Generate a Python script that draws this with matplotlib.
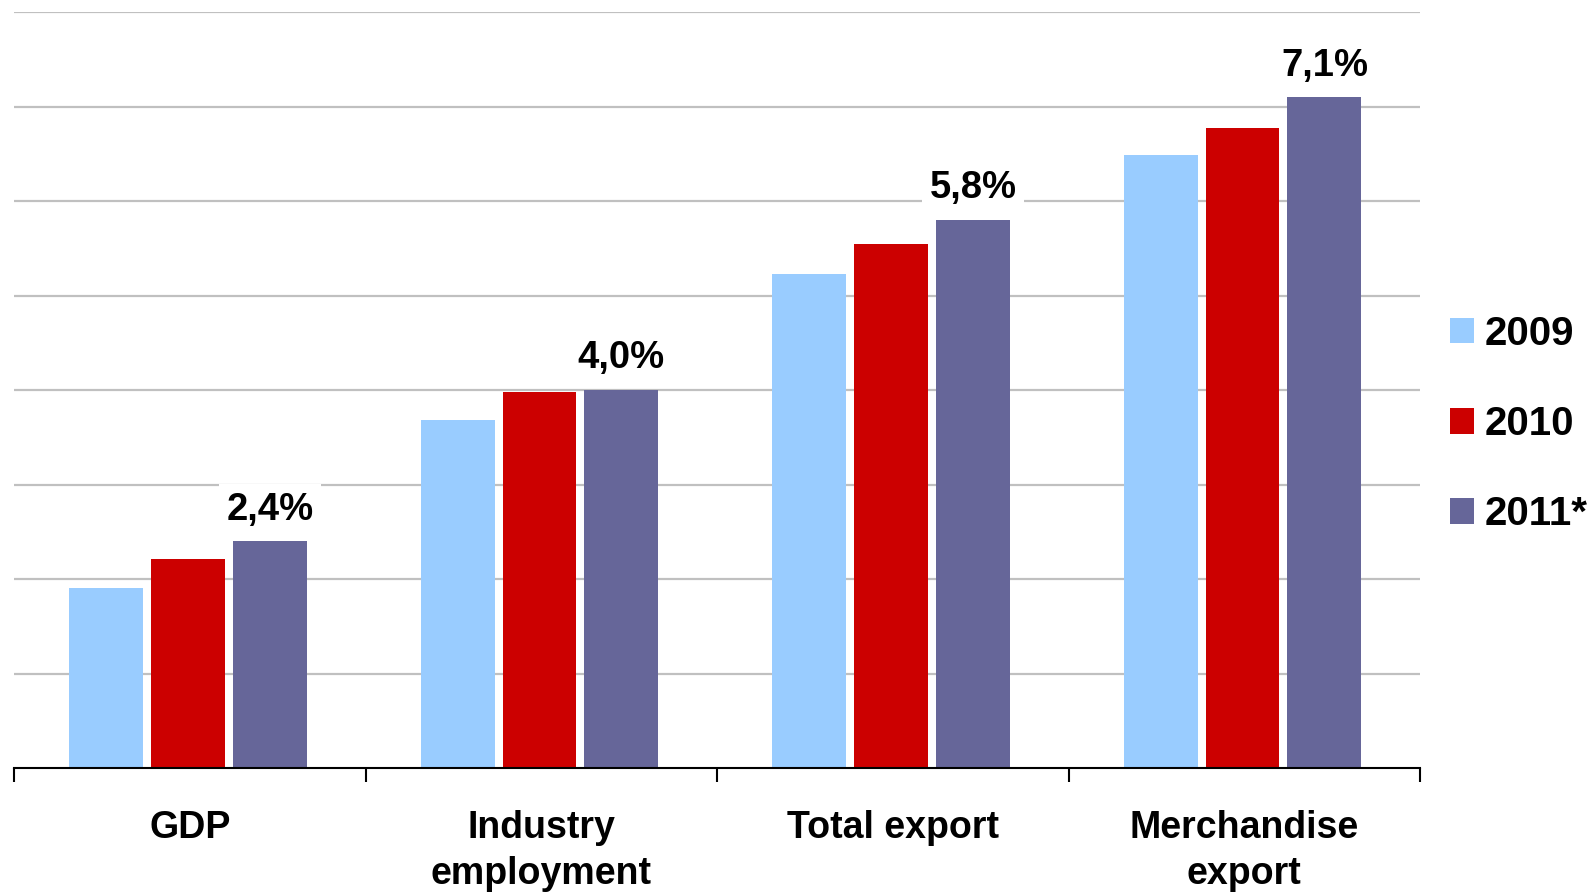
import matplotlib
matplotlib.use("Agg")
import matplotlib.pyplot as plt
import numpy as np
from matplotlib.patches import Patch

categories = ["GDP", "Industry\nemployment", "Total export", "Merchandise\nexport"]
series_names = ["2009", "2010", "2011*"]
v2009 = [1.9, 3.68, 5.23, 6.49]
v2010 = [2.21, 3.98, 5.54, 6.77]
v2011 = [2.4, 4.0, 5.8, 7.1]
colors = ["#99CCFF", "#CC0000", "#666699"]

plt.rcParams['font.family'] = ['Liberation Sans', 'DejaVu Sans']
plt.rcParams['font.weight'] = 'bold'

fig = plt.figure(figsize=(15.91, 8.92), dpi=100)
ax = fig.add_axes([14/1591, 1-768/892, (1420-14)/1591, (768-12)/892])

x = np.arange(len(categories))
width = 0.21
step = 0.233
series = [v2009, v2010, v2011]
for i, (vals, c) in enumerate(zip(series, colors)):
    bars = ax.bar(x - 0.005 + (i-1)*step, vals, width=width, color=c, zorder=2)
    if i == 2:
        for b, v in zip(bars, vals):
            ax.annotate(f"{v:.1f}%".replace('.', ','),
                        xy=(b.get_x()+b.get_width()/2, b.get_height()),
                        xytext=(0, 15.5), textcoords='offset points',
                        ha='center', va='baseline', fontsize=27.5, fontweight='bold',
                        bbox=dict(boxstyle='square,pad=0.2', fc='white', ec='none'),
                        zorder=4)

ax.set_xlim(-0.5, len(categories)-0.5)
ax.set_ylim(0, 8)
ax.set_yticks(np.arange(1, 9))
ax.yaxis.grid(True, color='#C0C0C0', linewidth=1.6, zorder=0)
ax.set_axisbelow(True)
ax.tick_params(axis='y', length=0, labelleft=False)

ax.set_xticks(x)
ax.set_xticklabels(categories, fontsize=27, fontweight='bold', linespacing=1.38)
ax.set_xticks(np.arange(-0.5, len(categories)), minor=True)
ax.tick_params(axis='x', which='major', length=0, pad=30)
ax.tick_params(axis='x', which='minor', length=10, width=1.5, color='black')

for s in ['top', 'right', 'left']:
    ax.spines[s].set_visible(False)
ax.spines['bottom'].set_linewidth(1.5)
ax.spines['bottom'].set_color('black')

handles = [Patch(facecolor=c, edgecolor='none') for c in colors]
leg = fig.legend(handles, series_names, loc='center left',
                 bbox_to_anchor=(1450/1591, 1-424/892), frameon=False,
                 prop={'family': 'Liberation Sans', 'weight': 'bold', 'size': 29},
                 handlelength=0.6, handleheight=0.6, handletextpad=0.25,
                 labelspacing=1.3, borderpad=0, borderaxespad=0)

fig.savefig("out.png", dpi=100)
